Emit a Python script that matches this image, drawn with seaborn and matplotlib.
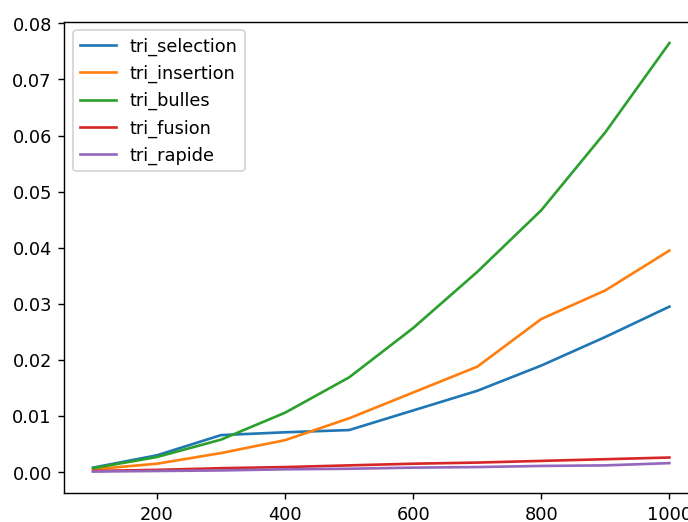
import pandas as pd
import seaborn as sns
import matplotlib.pyplot as plt

# tailles des listes
tailles = [100, 200, 300, 400, 500, 600, 700, 800, 900, 1000]

# temps mesures (secondes)
tri_selection = [0.0008, 0.0030, 0.0066, 0.0071, 0.0075, 0.0110, 0.0145, 0.0190, 0.0241, 0.0295]
tri_insertion = [0.0005, 0.0015, 0.0034, 0.0057, 0.0096, 0.0142, 0.0188, 0.0273, 0.0324, 0.0395]
tri_bulles = [0.0007, 0.0027, 0.0058, 0.0106, 0.0169, 0.0257, 0.0357, 0.0467, 0.0606, 0.0765]
tri_fusion = [0.0002, 0.0004, 0.0007, 0.0009, 0.0012, 0.0015, 0.0017, 0.0020, 0.0023, 0.0026]
tri_rapide = [0.0001, 0.0002, 0.0003, 0.0005, 0.0006, 0.0008, 0.0009, 0.0011, 0.0012, 0.0016]

series = {
    "tri_selection": tri_selection,
    "tri_insertion": tri_insertion,
    "tri_bulles": tri_bulles,
    "tri_fusion": tri_fusion,
    "tri_rapide": tri_rapide,
}

df = pd.DataFrame(series, index=tailles)

# capture agrandie ~1.27x et coupee a droite
dpi = 127.4
fig = plt.figure(figsize=(688.4 / dpi, 522.4 / dpi), dpi=dpi)
ax = fig.add_axes([64.2 / 688, 29 / 522, 633.6 / 688, 471 / 522])

for nom in series:
    sns.lineplot(x=df.index, y=df[nom], label=nom, ax=ax)

ax.set_xlabel("")
ax.set_ylabel("")
ax.legend(loc="upper left")

fig.savefig("out.png", dpi=dpi)
